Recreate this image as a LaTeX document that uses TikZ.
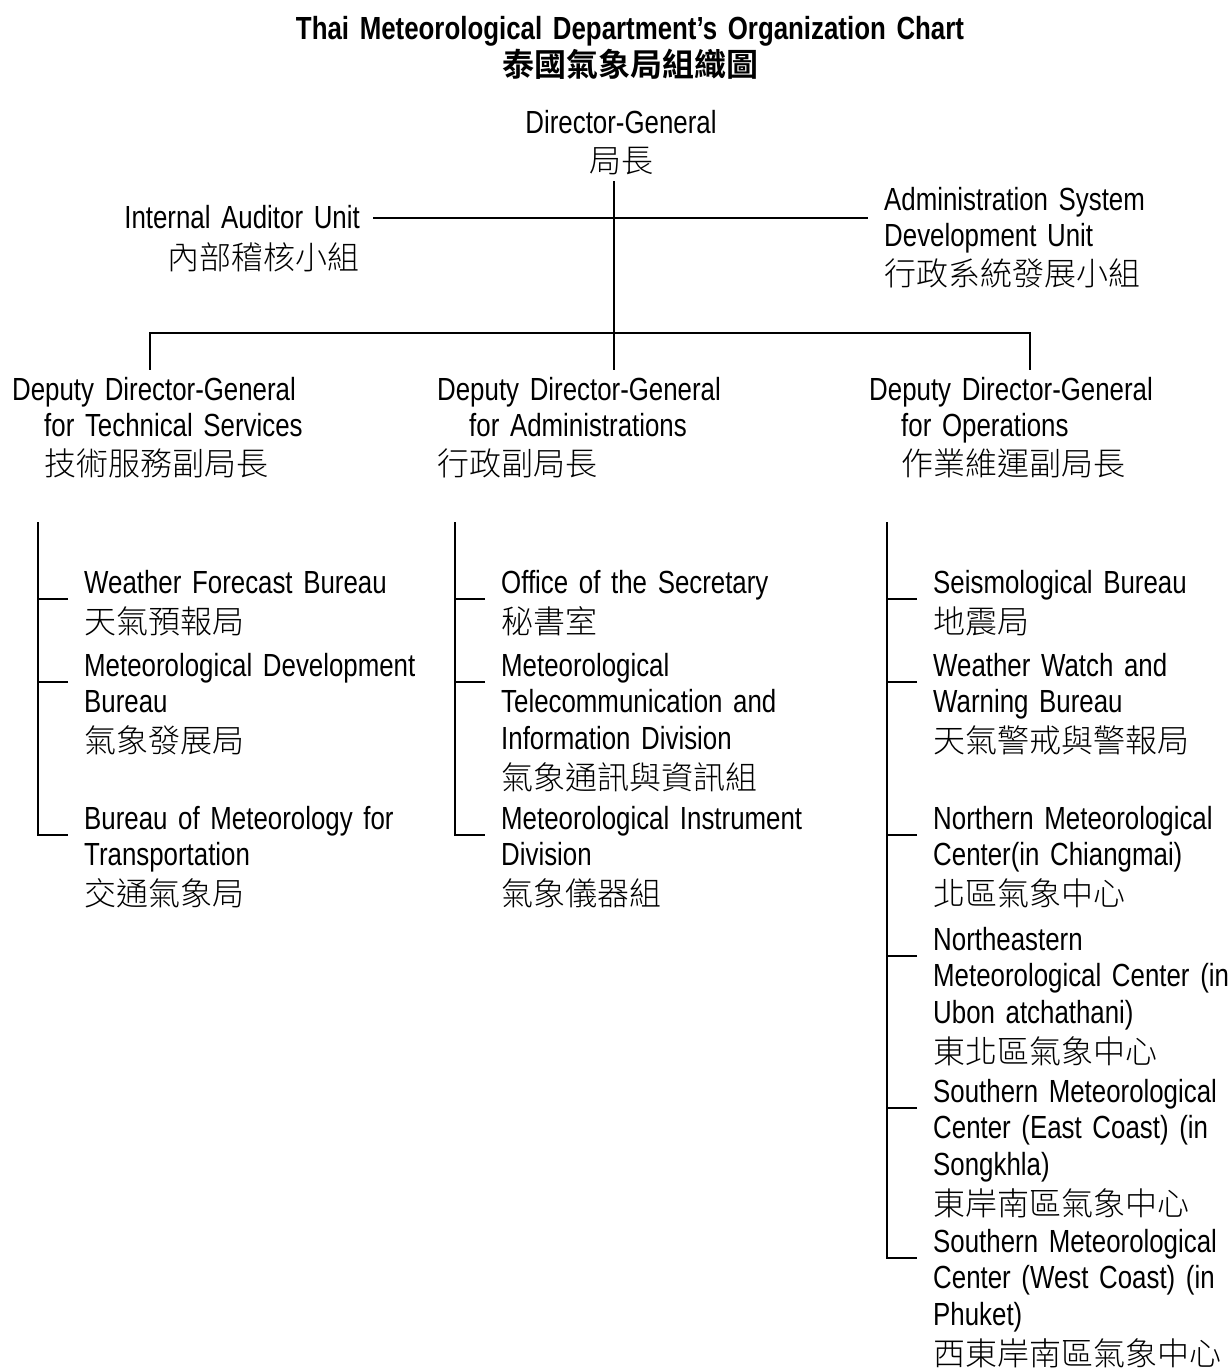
\documentclass[tikz,border=0pt]{standalone}
\usepackage{fontspec}
\setmainfont{Liberation Sans}[FakeStretch=0.808]
\newfontfamily\cjk{Noto Sans CJK TC}[UprightFont=* Light, BoldFont=* Bold]
\newcommand{\zh}[1]{{\cjk #1}}
\newcommand{\unitfont}{\fontsize{32}{36.5}\selectfont}
\tikzstyle{unit} = [inner sep=0pt, text width=400pt, align=left, anchor=base west, font=\unitfont]
\tikzstyle{head} = [unit, text width=320pt]
\tikzstyle{link} = [line width=1.8pt]
\tikzstyle{staffline} = [line width=2.8pt]

\begin{document}
\begin{tikzpicture}[x=1pt, y=-1pt]
\fill[white] (0,0) rectangle (1228,1368);
\useasboundingbox (0,0) rectangle (1228,1368);

\node (title) [head, text width=900pt, align=center, anchor=base, font=\unitfont\bfseries] at (630,39) {Thai Meteorological Department's Organization Chart\\[0.5pt]\zh{泰國氣象局組織圖}};
\node (dg) [head, text width=260pt, align=center, anchor=base] at (621,133) {Director-General\\[2.5pt]\zh{局長}};
\node (iau) [head, align=right, anchor=base east] at (360,228) {Internal Auditor Unit\\[5pt]\zh{內部稽核小組}};
\node (asdu) [head] at (884,210) {Administration System\\Development Unit\\[2.5pt]\zh{行政系統發展小組}};

\node (dts) [head] at (12,400) {Deputy Director-General\\\hspace*{32pt}for Technical Services\\[2pt]\hspace*{32pt}\zh{技術服務副局長}};
\node (dad) [head] at (437,400) {Deputy Director-General\\\hspace*{32pt}for Administrations\\[2pt]\zh{行政副局長}};
\node (dop) [head] at (869,400) {Deputy Director-General\\\hspace*{32pt}for Operations\\[2pt]\hspace*{32pt}\zh{作業維運副局長}};

\node (wfb) [unit] at (84,593) {Weather Forecast Bureau\\[3.5pt]\zh{天氣預報局}};
\node (mdb) [unit] at (84,676) {Meteorological Development\\Bureau\\[3.5pt]\zh{氣象發展局}};
\node (bmt) [unit] at (84,829) {Bureau of Meteorology for\\Transportation\\[3.5pt]\zh{交通氣象局}};

\node (osec) [unit] at (501,593) {Office of the Secretary\\[3.5pt]\zh{秘書室}};
\node (mtid) [unit] at (501,676) {Meteorological\\Telecommunication and\\Information Division\\[3.5pt]\zh{氣象通訊與資訊組}};
\node (mid) [unit] at (501,829) {Meteorological Instrument\\Division\\[3.5pt]\zh{氣象儀器組}};

\node (seis) [unit] at (933,593) {Seismological Bureau\\[3.5pt]\zh{地震局}};
\node (wwwb) [unit] at (933,676) {Weather Watch and\\Warning Bureau\\[3.5pt]\zh{天氣警戒與警報局}};
\node (nmc) [unit] at (933,829) {Northern Meteorological\\Center(in Chiangmai)\\[3.5pt]\zh{北區氣象中心}};
\node (nemc) [unit] at (933,950) {Northeastern\\Meteorological Center (in\\Ubon atchathani)\\[3.5pt]\zh{東北區氣象中心}};
\node (smce) [unit] at (933,1102) {Southern Meteorological\\Center (East Coast) (in\\Songkhla)\\[3.5pt]\zh{東岸南區氣象中心}};
\node (smcw) [unit] at (933,1252) {Southern Meteorological\\Center (West Coast) (in\\Phuket)\\[3.5pt]\zh{西東岸南區氣象中心}};

\coordinate (dgfoot) at (614,181);
\coordinate (hub) at (614,333);
\coordinate (barL) at (150,333);
\coordinate (barR) at (1030,333);
\coordinate (staffR) at (868,218);
\coordinate (ltop) at (38,522);
\coordinate (mtop) at (455,522);
\coordinate (rtop) at (887,522);

\draw [staffline] ([xshift=13pt,yshift=10pt]iau.base east) -- (staffR);
\draw [link, shorten >=7pt] (dgfoot) -- (hub |- dad.north);
\draw [link, shorten <=7pt, shorten >=7pt] (dts.north -| barL) -- (barL) -- (barR) -- (dop.north -| barR);

\draw [link] (ltop) |- ([xshift=-16pt,yshift=-6pt]bmt.base west);
\draw [link] ([xshift=-16pt,yshift=-6pt]wfb.base west) -- ++(-30,0);
\draw [link] ([xshift=-16pt,yshift=-6pt]mdb.base west) -- ++(-30,0);

\draw [link] (mtop) |- ([xshift=-16pt,yshift=-6pt]mid.base west);
\draw [link] ([xshift=-16pt,yshift=-6pt]osec.base west) -- ++(-30,0);
\draw [link] ([xshift=-16pt,yshift=-6pt]mtid.base west) -- ++(-30,0);

\draw [link] (rtop) |- ([xshift=-16pt,yshift=-6pt]smcw.base west);
\draw [link] ([xshift=-16pt,yshift=-6pt]seis.base west) -- ++(-30,0);
\draw [link] ([xshift=-16pt,yshift=-6pt]wwwb.base west) -- ++(-30,0);
\draw [link] ([xshift=-16pt,yshift=-6pt]nmc.base west) -- ++(-30,0);
\draw [link] ([xshift=-16pt,yshift=-6pt]nemc.base west) -- ++(-30,0);
\draw [link] ([xshift=-16pt,yshift=-6pt]smce.base west) -- ++(-30,0);
\end{tikzpicture}
\end{document}
